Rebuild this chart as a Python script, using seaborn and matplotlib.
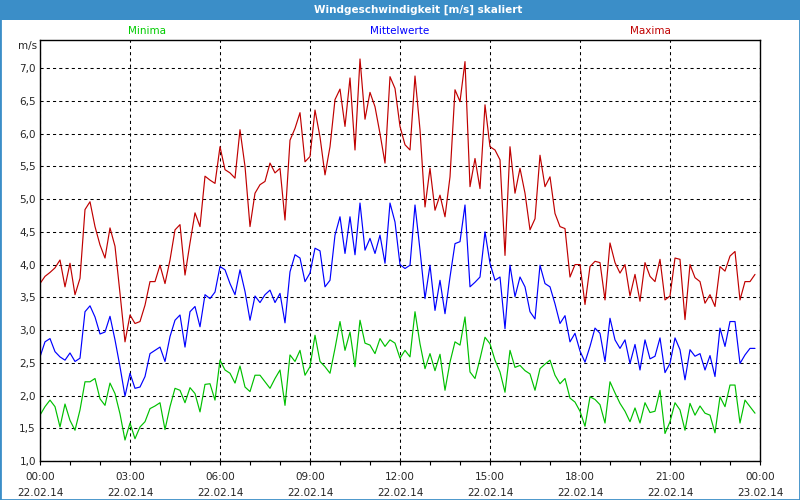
import numpy as np
import pandas as pd
import matplotlib.pyplot as plt
import matplotlib.dates as mdates
from matplotlib.patches import Rectangle
from matplotlib.ticker import FuncFormatter, MultipleLocator
import seaborn as sns

# Windgeschwindigkeit, 10-Minuten-Werte vom 22.02.14
maxima = [3.71, 3.82, 3.88, 3.95, 4.07, 3.66, 4.02, 3.54, 3.79, 4.84, 4.96, 4.58, 4.30, 4.10, 4.56, 4.28, 3.56, 2.82,
          3.23, 3.10, 3.13, 3.38, 3.74, 3.74, 3.99, 3.71, 4.07, 4.53, 4.61, 3.84, 4.33, 4.79, 4.58, 5.35, 5.29, 5.24,
          5.80, 5.45, 5.40, 5.32, 6.06, 5.50, 4.58, 5.09, 5.22, 5.27, 5.55, 5.40, 5.47, 4.68, 5.90, 6.08, 6.32, 5.57,
          5.65, 6.36, 5.95, 5.37, 5.80, 6.52, 6.68, 6.11, 6.85, 5.75, 7.14, 6.22, 6.63, 6.41, 6.00, 5.55, 6.87, 6.69,
          6.11, 5.83, 5.75, 6.88, 6.06, 4.88, 5.47, 4.83, 5.06, 4.73, 5.34, 6.67, 6.49, 7.10, 5.19, 5.62, 5.16, 6.44,
          5.80, 5.75, 5.60, 4.14, 5.80, 5.09, 5.47, 5.09, 4.53, 4.70, 5.67, 5.19, 5.34, 4.78, 4.58, 4.55, 3.81, 4.00,
          4.00, 3.39, 3.97, 4.05, 4.03, 3.46, 4.33, 4.03, 3.87, 4.00, 3.52, 3.85, 3.44, 4.03, 3.82, 3.74, 4.08, 3.46,
          3.52, 4.10, 4.08, 3.16, 4.00, 3.80, 3.74, 3.41, 3.54, 3.36, 3.97, 3.90, 4.13, 4.20, 3.46, 3.74, 3.74, 3.85]

mittelwerte = [2.59, 2.82, 2.87, 2.67, 2.59, 2.54, 2.65, 2.52, 2.57, 3.28, 3.37, 3.20, 2.94, 2.97, 3.21, 2.85, 2.44, 1.99,
               2.34, 2.11, 2.13, 2.29, 2.64, 2.69, 2.74, 2.52, 2.90, 3.15, 3.23, 2.74, 3.28, 3.36, 3.05, 3.54, 3.48, 3.58,
               3.97, 3.92, 3.71, 3.54, 3.92, 3.59, 3.15, 3.52, 3.42, 3.54, 3.61, 3.42, 3.56, 3.11, 3.89, 4.15, 4.10, 3.74,
               3.87, 4.25, 4.21, 3.66, 3.76, 4.45, 4.73, 4.17, 4.73, 4.15, 4.94, 4.22, 4.40, 4.17, 4.45, 4.02, 4.94, 4.65,
               4.00, 3.94, 3.99, 4.91, 4.22, 3.48, 3.99, 3.30, 3.76, 3.25, 3.81, 4.32, 4.35, 4.91, 3.66, 3.73, 3.81, 4.50,
               4.02, 3.76, 3.81, 3.02, 3.99, 3.51, 3.81, 3.66, 3.28, 3.17, 3.99, 3.71, 3.66, 3.40, 3.10, 3.22, 2.82, 2.95,
               2.68, 2.51, 2.75, 3.03, 2.95, 2.52, 3.18, 2.85, 2.72, 2.85, 2.49, 2.78, 2.39, 2.85, 2.56, 2.60, 2.88, 2.35,
               2.49, 2.88, 2.70, 2.24, 2.70, 2.60, 2.64, 2.39, 2.61, 2.29, 3.03, 2.75, 3.13, 3.13, 2.49, 2.62, 2.72, 2.72]

minima = [1.70, 1.83, 1.93, 1.83, 1.52, 1.87, 1.62, 1.47, 1.78, 2.21, 2.21, 2.26, 1.95, 1.85, 2.19, 2.03, 1.72, 1.32,
          1.58, 1.34, 1.52, 1.60, 1.80, 1.84, 1.89, 1.48, 1.83, 2.11, 2.08, 1.89, 2.12, 2.03, 1.75, 2.17, 2.18, 1.93,
          2.54, 2.39, 2.34, 2.19, 2.45, 2.13, 2.06, 2.31, 2.31, 2.21, 2.11, 2.26, 2.39, 1.85, 2.62, 2.52, 2.69, 2.31,
          2.44, 2.92, 2.52, 2.44, 2.34, 2.72, 3.13, 2.69, 2.97, 2.44, 3.15, 2.80, 2.77, 2.64, 2.87, 2.75, 2.85, 2.80,
          2.57, 2.69, 2.59, 3.28, 2.79, 2.41, 2.64, 2.38, 2.63, 2.08, 2.51, 2.82, 2.77, 3.20, 2.36, 2.26, 2.56, 2.89,
          2.79, 2.54, 2.36, 2.05, 2.69, 2.43, 2.46, 2.38, 2.33, 2.08, 2.41, 2.48, 2.54, 2.31, 2.18, 2.26, 1.96, 1.90,
          1.76, 1.53, 1.98, 1.94, 1.86, 1.58, 2.21, 2.04, 1.88, 1.76, 1.60, 1.81, 1.58, 1.89, 1.74, 1.76, 2.08, 1.42,
          1.60, 1.89, 1.78, 1.47, 1.88, 1.70, 1.84, 1.73, 1.70, 1.43, 1.98, 1.83, 2.16, 2.16, 1.58, 1.93, 1.83, 1.73]

serien = ['Minima', 'Mittelwerte', 'Maxima']
farben = {'Minima': '#00c000', 'Mittelwerte': '#0000ff', 'Maxima': '#c00000'}
text_farben = {'Minima': '#00cc00', 'Mittelwerte': '#0000ff', 'Maxima': '#c00000'}

zeit = pd.date_range('2014-02-22 00:00', periods=len(maxima), freq='10min')
df = pd.DataFrame({'zeit': zeit, 'Minima': minima, 'Mittelwerte': mittelwerte, 'Maxima': maxima})

sns.set_style('white')
plt.rcParams['font.family'] = ['DejaVu Sans']
plt.rcParams['font.size'] = 7.5

fig = plt.figure(figsize=(8, 5), dpi=100)
ax = fig.add_axes([40 / 800, 39 / 500, 720 / 800, 421 / 500])

for s in serien:
    sns.lineplot(data=df, x='zeit', y=s, color=farben[s], linewidth=0.85, ax=ax)

ax.set_xlim(pd.Timestamp('2014-02-22 00:00'), pd.Timestamp('2014-02-23 00:00'))
ax.set_ylim(1.0, 7.43)
ax.set_xlabel('')
ax.set_ylabel('')

ax.yaxis.set_major_locator(MultipleLocator(0.5))
ax.yaxis.set_major_formatter(FuncFormatter(lambda v, p: f'{v:.1f}'.replace('.', ',')))
ax.xaxis.set_major_locator(mdates.HourLocator(byhour=range(0, 24, 3)))
ax.xaxis.set_minor_locator(mdates.HourLocator())
ax.xaxis.set_major_formatter(mdates.DateFormatter('%H:%M\n%d.%m.%y'))

ax.grid(True, which='major', color='black', linestyle=(0, (3, 3)), linewidth=0.75)
ax.tick_params(axis='x', which='both', direction='out', length=3, width=0.8, color='black', pad=5, bottom=True)
ax.tick_params(axis='y', which='both', length=0, pad=3)
for lab in ax.get_xticklabels():
    lab.set_linespacing(1.7)
for sp in ax.spines.values():
    sp.set_color('black')
    sp.set_linewidth(1.0)

# Legende als farbige Texte ueber dem Diagramm
pos = {'Minima': 147, 'Mittelwerte': 400, 'Maxima': 650}
for s in serien:
    fig.text(pos[s] / 800, 1 - 31 / 500, s, color=text_farben[s], ha='center', va='center')
fig.text(37 / 800, 1 - 46 / 500, 'm/s', ha='right', va='center')

# Titelleiste
blau = '#3b8ec8'
fig.add_artist(Rectangle((0, 1 - 20 / 500), 1, 20 / 500, transform=fig.transFigure,
                         facecolor=blau, edgecolor='none', zorder=5))
fig.add_artist(Rectangle((0, 0), 1, 1, transform=fig.transFigure, fill=False,
                         edgecolor=blau, linewidth=2.0, zorder=6))
fig.text(418 / 800, 1 - 10 / 500, 'Windgeschwindigkeit [m/s] skaliert', color='white',
         fontweight='bold', ha='center', va='center', zorder=7)

fig.savefig('out.png', dpi=100)
